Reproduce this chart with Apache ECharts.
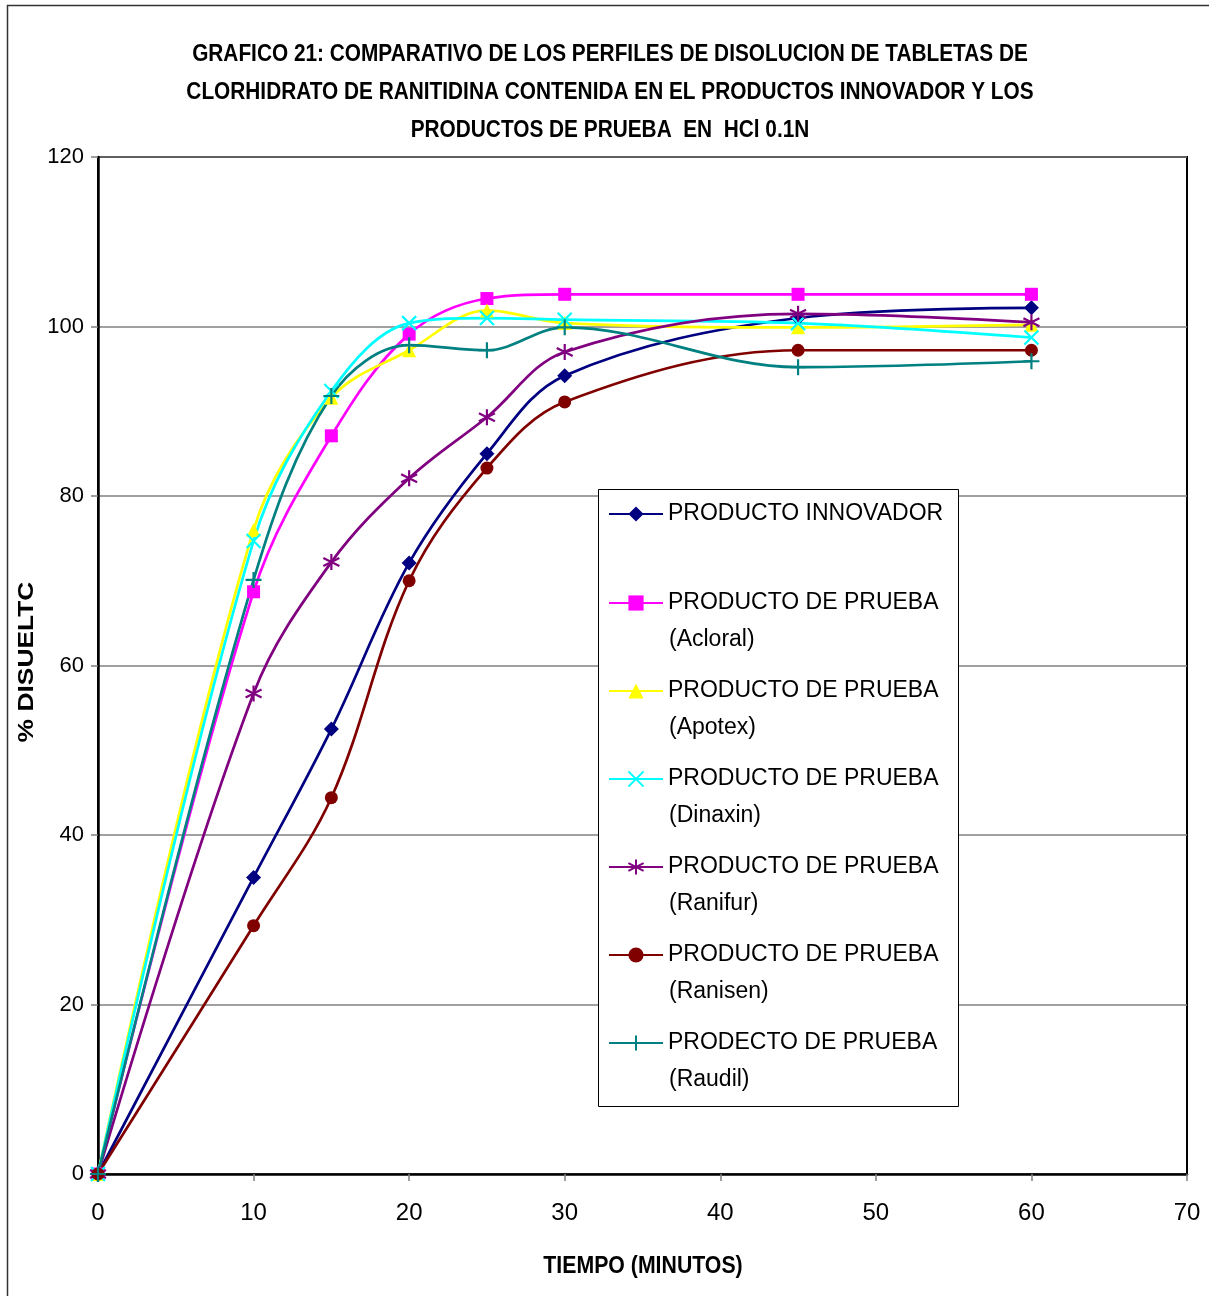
<!DOCTYPE html>
<html>
<head>
<meta charset="utf-8">
<script src="https://cdn.jsdelivr.net/npm/echarts@6/dist/echarts.min.js"></script>
<style>
  html, body { margin: 0; padding: 0; background: #fff; }
  #chart { width: 1209px; height: 1296px; }
</style>
</head>
<body>
<div id="chart"></div>
<script>
// Dissolution time points (minutes)
const tiempos = [0, 10, 15, 20, 25, 30, 45, 60];

// % dissolved per product
const innovador = [0, 35.0, 52.5, 72.1, 85.0, 94.2, 101.0, 102.2];
const acloral   = [0, 68.7, 87.1, 99.1, 103.3, 103.8, 103.8, 103.8];
const apotex    = [0, 76.0, 91.6, 97.2, 101.9, 100.4, 99.9, 100.2];
const dinaxin   = [0, 74.7, 92.4, 100.4, 101.0, 100.8, 100.4, 98.7];
const ranifur   = [0, 56.7, 72.2, 82.1, 89.3, 97.0, 101.5, 100.5];
const ranisen   = [0, 29.3, 44.4, 70.0, 83.3, 91.1, 97.2, 97.2];
const raudil    = [0, 70.1, 91.8, 97.8, 97.2, 99.9, 95.2, 95.9];

const tituloLineas = [
  'GRAFICO 21: COMPARATIVO DE LOS PERFILES DE DISOLUCION DE TABLETAS DE',
  'CLORHIDRATO DE RANITIDINA CONTENIDA EN EL PRODUCTOS INNOVADOR Y LOS',
  'PRODUCTOS DE PRUEBA  EN  HCl 0.1N'
];
const ejeX = 'TIEMPO (MINUTOS)';
const ejeY = '% DISUELTC';

const sans = "'Liberation Sans', Arial, sans-serif";

const SYM_X = 'path://M0,0L10,10M10,0L0,10';
const SYM_STAR = 'path://M5,0L5,10M0.7,2.5L9.3,7.5M9.3,2.5L0.7,7.5';
const SYM_PLUS = 'path://M5,0L5,10M0,5L10,5';

const productos = [
  { line1: 'PRODUCTO INNOVADOR', line2: '', data: innovador, color: '#000080', symbol: 'diamond', size: 15, stroke: false },
  { line1: 'PRODUCTO DE PRUEBA', line2: '(Acloral)', data: acloral, color: '#FF00FF', symbol: 'rect', size: 13, stroke: false },
  { line1: 'PRODUCTO DE PRUEBA', line2: '(Apotex)', data: apotex, color: '#FFFF00', symbol: 'triangle', size: 14, stroke: false },
  { line1: 'PRODUCTO DE PRUEBA', line2: '(Dinaxin)', data: dinaxin, color: '#00FFFF', symbol: SYM_X, size: 14, stroke: true },
  { line1: 'PRODUCTO DE PRUEBA', line2: '(Ranifur)', data: ranifur, color: '#800080', symbol: SYM_STAR, size: 16, stroke: true },
  { line1: 'PRODUCTO DE PRUEBA', line2: '(Ranisen)', data: ranisen, color: '#800000', symbol: 'circle', size: 13, stroke: false },
  { line1: 'PRODECTO DE PRUEBA', line2: '(Raudil)', data: raudil, color: '#008080', symbol: SYM_PLUS, size: 16, stroke: true }
];

const fullName = p => p.line2 ? p.line1 + ' ' + p.line2 : p.line1;

const series = productos.map(p => ({
  name: fullName(p),
  type: 'line',
  smooth: 0.35,
  data: tiempos.map((t, i) => [t, p.data[i]]),
  symbol: p.symbol,
  symbolSize: p.size,
  showAllSymbol: true,
  lineStyle: { color: p.color, width: 2.7 },
  itemStyle: p.stroke
    ? { color: p.color, borderColor: p.color, borderWidth: 2.2 }
    : { color: p.color, borderWidth: 0 },
  emphasis: { disabled: true },
  animation: false
}));

// Legend rows: one legend per product, second line of label added as text
const legendRows = [514, 603, 691, 779, 867, 955, 1043];
const legends = productos.map((p, i) => ({
  data: [fullName(p)],
  orient: 'vertical',
  left: 608,
  top: legendRows[i] - 14,
  padding: 0,
  itemWidth: 54,
  itemHeight: 19,
  selectedMode: false,
  z: 8,
  formatter: () => p.line1,
  textStyle: { fontFamily: sans, fontSize: 23, color: '#000', lineHeight: 28 }
}));

const condensedText = (text, x, y, size, sx, rot) => ({
  type: 'text', x: x, y: y, scaleX: sx, rotation: rot || 0, z: 8, silent: true,
  style: { text: text, fontFamily: sans, fontWeight: 'bold', fontSize: size, fill: '#000',
           textAlign: 'center', textVerticalAlign: 'middle' }
});

const graphics = [
  // outer frame
  { type: 'rect', shape: { x: 7.5, y: 5.5, width: 1260, height: 1320 },
    style: { fill: 'none', stroke: '#333', lineWidth: 1.5 }, z: 1, silent: true },
  // legend box
  { type: 'rect', shape: { x: 598.5, y: 489.5, width: 360, height: 617 },
    style: { fill: '#fff', stroke: '#000', lineWidth: 1 }, z: 7, silent: true },
  // title lines
  condensedText(tituloLineas[0], 610, 55, 23, 0.905),
  condensedText(tituloLineas[1], 610, 93, 23, 0.905),
  condensedText(tituloLineas[2], 610, 131, 23, 0.905),
  // axis titles
  condensedText(ejeX, 643, 1267, 23, 0.925),
  condensedText(ejeY, 27, 662, 22, 1.2, Math.PI / 2)
];
productos.forEach((p, i) => {
  if (p.line2) {
    graphics.push({ type: 'text', x: 669, y: legendRows[i] + 37, z: 8, silent: true,
      style: { text: p.line2, fontFamily: sans, fontSize: 23, fill: '#000',
               textAlign: 'left', textVerticalAlign: 'middle' } });
  }
});

const chart = echarts.init(document.getElementById('chart'), null, { renderer: 'canvas' });
chart.setOption({
  animation: false,
  backgroundColor: '#fff',
  grid: {
    left: 98, top: 157, width: 1089, height: 1017,
    show: true, borderColor: '#000', borderWidth: 2, backgroundColor: 'transparent'
  },
  legend: legends,
  graphic: graphics,
  xAxis: {
    type: 'value', min: 0, max: 70, interval: 10,
    axisLine: { lineStyle: { color: '#000', width: 2.5 } },
    axisTick: { show: true, length: 7, lineStyle: { color: '#808080', width: 1.5 } },
    splitLine: { show: false },
    axisLabel: { fontFamily: sans, fontSize: 24, color: '#000', margin: 27 }
  },
  yAxis: {
    type: 'value', min: 0, max: 120, interval: 20,
    axisLine: { show: true, lineStyle: { color: '#000', width: 2.5 } },
    axisTick: { show: true, length: 7, lineStyle: { color: '#808080', width: 1.5 } },
    splitLine: { show: true, lineStyle: { color: '#808080', width: 1.5 } },
    axisLabel: { fontFamily: sans, fontSize: 22, color: '#000', margin: 14 }
  },
  series: series
});
</script>
</body>
</html>
